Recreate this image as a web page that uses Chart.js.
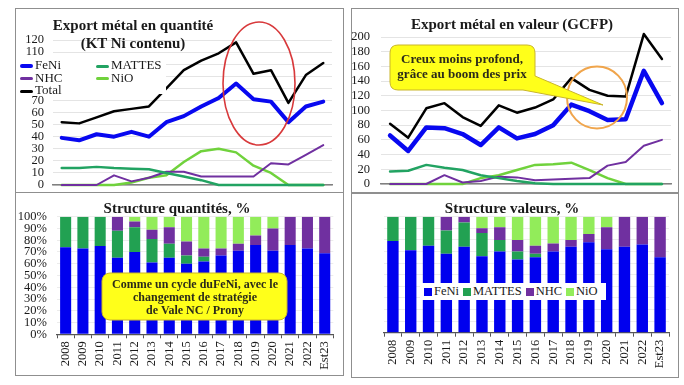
<!DOCTYPE html>
<html>
<head>
<meta charset="utf-8">
<script src="https://cdn.jsdelivr.net/npm/chart.js@4.4.1/dist/chart.umd.min.js"></script>
<style>
  body { margin: 0; width: 684px; height: 385px; position: relative; overflow: hidden; background: #fff;
         font-family: "Liberation Serif", "Times New Roman", serif; color: #1a1a1a; }
  .panel { position: absolute; border: 1.5px solid #8f8f8f; box-sizing: border-box; }
  canvas { position: absolute; }
  .title { position: absolute; font-weight: bold; font-size: 15px; line-height: 18px; text-align: center;
           white-space: nowrap; transform: translateX(-50%); }
  .legend { position: absolute; background: #fff; font-size: 13px; white-space: nowrap; }
  .legend .item { position: absolute; white-space: nowrap; line-height: 13px; }
  .legend .swatch { display: inline-block; vertical-align: middle; margin-right: 2px; }
  .note { position: absolute; font-weight: bold; text-align: center; white-space: nowrap;
          transform: translateX(-50%); color: #2b2b1a; }
  svg { position: absolute; left: 0; top: 0; }
</style>
</head>
<body>
<div class="panel" style="left:15px; top:8px; width:329px; height:185px"></div>
<div class="panel" style="left:351px; top:8px; width:328px; height:185px"></div>
<div class="panel" style="left:15px; top:192px; width:329px; height:184px"></div>
<div class="panel" style="left:351px; top:193px; width:328px; height:185px"></div>

<canvas id="qty" width="343" height="192" style="left:0; top:0"></canvas>
<canvas id="val" width="339" height="192" style="left:345px; top:0"></canvas>
<canvas id="qtyShare" width="343" height="193" style="left:0; top:192px"></canvas>
<canvas id="valShare" width="339" height="193" style="left:345px; top:192px"></canvas>

<svg width="684" height="385">
  <ellipse cx="259" cy="83.5" rx="36" ry="61.5" fill="none" stroke="#d8393b" stroke-width="1.6"/>
  <ellipse cx="597" cy="97.5" rx="30" ry="31" fill="none" stroke="#f0a54c" stroke-width="2"/>
  <path d="M398 45 H527 Q535 45 535 53 V76 L603 105 L523 90 H398 Q390 90 390 82 V53 Q390 45 398 45 Z"
        fill="#ffff1a" stroke="#c9b52a" stroke-width="1"/>
  <rect x="102" y="273" width="185" height="47" rx="8" fill="#ffff1a" stroke="#c9b52a" stroke-width="1"/>
</svg>

<div class="title" style="left:133px; top:16px">Export métal en quantité<br>(KT Ni contenu)</div>
<div class="title" style="left:512px; top:15px">Export métal en valeur (GCFP)</div>
<div class="title" style="left:177px; top:199px">Structure quantités, %</div>
<div class="title" style="left:512px; top:199px">Structure valeurs, %</div>

<div class="legend" id="legendQty" style="left:16px; top:57px; width:150px; height:37px"></div>
<div class="legend" id="legendShare" style="left:420px; top:283px; width:186px; height:17px"></div>

<div class="note" style="left:462px; top:51px; font-size:13px; line-height:15px">Creux moins profond,<br>grâce au boom des prix</div>
<div class="note" style="left:195px; top:278px; font-size:12px; line-height:13px">Comme un cycle duFeNi, avec le<br>changement de stratégie<br>de Vale NC / Prony</div>

<script>
const years = ['2008', '2009', '2010', '2011', '2012', '2013', '2014', '2015',
  '2016', '2017', '2018', '2019', '2020', '2021', '2022', 'Est23'];

// export volumes, kt Ni contained
const qtyFeNi   = [39, 37, 42, 40, 44, 40, 52, 57, 65, 72, 84, 71, 69, 52, 65, 69];
const qtyMattes = [14, 14, 15, 14, 13.5, 13, 10, 7, 4, 0, 0, 0, 0, 0, 0, 0];
const qtyNhc    = [0, 0, 0, 8, 3, 6, 11, 11, 7, 7, 7, 7, 18, 17, 25, 33];
const qtyNio    = [0, 0, 0, 0, 2, 6, 8, 19, 28, 30, 27, 16, 10, 0, 0, 0];
const qtyTotal  = [52, 51, 56, 61, 63, 65, 80, 95, 103, 109, 118, 92, 95, 68, 91, 101];

// export values, GCFP
const valFeNi   = [66, 45, 77, 76, 68, 53, 77, 62, 68, 80, 108, 99, 87, 88, 154, 110];
const valMattes = [17, 18, 26, 22, 19, 12, 8, 4, 1, 0, 0, 0, 0, 0, 0, 0];
const valNhc    = [0, 0, 0, 12, 2, 4, 10, 9, 5, 6, 7, 8, 25, 30, 52, 60];
const valNio    = [0, 0, 0, 0, 0, 8, 12, 19, 26, 27, 29, 19, 8, 0, 0, 0];
const valTotal  = [82, 63, 103, 110, 91, 79, 107, 97, 104, 115, 144, 128, 120, 119, 204, 170];

// structure in %
const shareQtyFeNi   = [74, 73, 75, 65, 70, 61, 65, 60, 62, 67, 71, 76, 71, 76, 73, 69];
const shareQtyMattes = [26, 27, 25, 23, 21, 20, 12, 7, 4, 0, 0, 0, 0, 0, 0, 0];
const shareQtyNhc    = [0, 0, 0, 12, 5, 8, 14, 12, 7, 6, 6, 8, 19, 24, 27, 31];
const shareQtyNio    = [0, 0, 0, 0, 4, 11, 9, 21, 27, 27, 23, 16, 10, 0, 0, 0];

const shareValFeNi   = [79, 71, 75, 68, 74, 66, 70, 63, 65, 70, 74, 78, 72, 74, 76, 65];
const shareValMattes = [21, 29, 25, 20, 21, 20, 10, 7, 3, 0, 0, 0, 0, 0, 0, 0];
const shareValNhc    = [0, 0, 0, 12, 5, 4, 11, 10, 7, 7, 6, 7, 19, 26, 24, 35];
const shareValNio    = [0, 0, 0, 0, 0, 10, 9, 20, 25, 23, 20, 15, 9, 0, 0, 0];

const COLORS = {
  feni: '#0808f0', mattes: '#22a362', nhc: '#7030a0', nio: '#70d23c', total: '#000000',
  feniBar: '#0000ee', mattesBar: '#22a152', nioBar: '#92ec5a',
};

Chart.defaults.font.family = '"Liberation Serif", "Times New Roman", serif';
Chart.defaults.color = '#1a1a1a';
Chart.defaults.animation = false;

function line(label, data, color, width) {
  return {
    label, data, borderColor: color, backgroundColor: color, borderWidth: width,
    pointRadius: 0, tension: 0, fill: false, clip: false,
    borderCapStyle: 'round', borderJoinStyle: 'round',
  };
}

function bar(label, data, color) {
  return { label, data, backgroundColor: color, barPercentage: 0.64, categoryPercentage: 1 };
}

// fixed axis width; end-label overhang is left to the layout padding
function fitYAxis(width) {
  return (s) => { s.width = width; s.paddingTop = 0; s.paddingBottom = 0; };
}

function lineChart(id, datasets, yMax, yStep, axisWidth, labelPad, padding) {
  return new Chart(document.getElementById(id), {
    type: 'line',
    data: { labels: years, datasets },
    options: {
      responsive: false,
      layout: { padding },
      plugins: { legend: { display: false }, tooltip: { enabled: false } },
      scales: {
        x: {
          offset: true,
          grid: { drawOnChartArea: false, drawTicks: false },
          border: { color: '#808080', width: 1.5 },
          ticks: { display: false },
          afterFit: (s) => { s.height = 0; },
        },
        y: {
          min: 0, max: yMax,
          ticks: { stepSize: yStep, autoSkip: false, padding: labelPad, font: { size: 12.5 } },
          grid: { color: '#e4e4e4', drawTicks: false },
          border: { display: false },
          afterFit: fitYAxis(axisWidth),
        },
      },
    },
  });
}

function shareChart(id, datasets, showLabels, axisWidth, padding) {
  return new Chart(document.getElementById(id), {
    type: 'bar',
    data: { labels: years, datasets },
    options: {
      responsive: false,
      layout: { padding },
      plugins: { legend: { display: false }, tooltip: { enabled: false } },
      scales: {
        x: {
          stacked: true,
          grid: { drawOnChartArea: false, tickLength: 4, color: '#555' },
          border: { color: '#555', width: 1.2 },
          ticks: { autoSkip: false, minRotation: 90, maxRotation: 90, padding: 3, font: { size: 12.5 } },
          afterFit: (s) => { s.height = 40; },
        },
        y: {
          stacked: true, min: 0, max: 100,
          ticks: {
            display: showLabels, stepSize: 10, autoSkip: false, padding: 10,
            font: { size: 12.5 }, callback: (v) => v + '%',
          },
          grid: { color: '#ececec', drawTicks: false },
          border: { display: false },
          afterFit: fitYAxis(axisWidth),
        },
      },
    },
  });
}

lineChart('qty', [
  line('FeNi', qtyFeNi, COLORS.feni, 4),
  line('MATTES', qtyMattes, COLORS.mattes, 2.5),
  line('NHC', qtyNhc, COLORS.nhc, 2),
  line('NiO', qtyNio, COLORS.nio, 2.5),
  line('Total', qtyTotal, COLORS.total, 2.5),
], 120, 10, 53, 9, { top: 40, right: 11, bottom: 7, left: 0 });

lineChart('val', [
  line('FeNi', valFeNi, COLORS.feni, 4.5),
  line('MATTES', valMattes, COLORS.mattes, 2.5),
  line('NHC', valNhc, COLORS.nhc, 2),
  line('NiO', valNio, COLORS.nio, 2.5),
  line('Total', valTotal, COLORS.total, 2.5),
], 200, 20, 36, 11, { top: 37, right: 13, bottom: 8, left: 0 });

shareChart('qtyShare', [
  bar('FeNi', shareQtyFeNi, COLORS.feniBar),
  bar('MATTES', shareQtyMattes, COLORS.mattesBar),
  bar('NHC', shareQtyNhc, COLORS.nhc),
  bar('NiO', shareQtyNio, COLORS.nioBar),
], true, 57, { top: 24.7, right: 9, bottom: 10.7, left: 0 });

shareChart('valShare', [
  bar('FeNi', shareValFeNi, COLORS.feniBar),
  bar('MATTES', shareValMattes, COLORS.mattesBar),
  bar('NHC', shareValNhc, COLORS.nhc),
  bar('NiO', shareValNio, COLORS.nioBar),
], false, 0, { top: 24.7, right: 15, bottom: 12.3, left: 39 });

// legend of the volume chart: two columns, line samples
const qtyLegend = [
  ['FeNi', COLORS.feni, 4], ['MATTES', COLORS.mattes, 3], ['NHC', COLORS.nhc, 3],
  ['NiO', COLORS.nio, 3], ['Total', COLORS.total, 3],
];
const legendQtyEl = document.getElementById('legendQty');
qtyLegend.forEach(([name, color, w], i) => {
  const item = document.createElement('div');
  item.className = 'item';
  item.style.left = (4 + (i % 2) * 76) + 'px';
  item.style.top = (1 + Math.floor(i / 2) * 12.5) + 'px';
  item.innerHTML = `<span class="swatch" style="width:13px;height:${w}px;border-radius:2px;background:${color}"></span>${name}`;
  legendQtyEl.appendChild(item);
});

// legend of the value structure chart: squares in one row
const shareLegend = [['FeNi', COLORS.feniBar], ['MATTES', COLORS.mattesBar], ['NHC', COLORS.nhc], ['NiO', COLORS.nioBar]];
const legendShareEl = document.getElementById('legendShare');
legendShareEl.style.fontSize = '12.5px';
legendShareEl.style.lineHeight = '17px';
legendShareEl.innerHTML = shareLegend.map(([name, color]) =>
  `<span class="swatch" style="width:8px;height:8px;margin-left:4px;background:${color}"></span>${name}`
).join('');
</script>
</body>
</html>
